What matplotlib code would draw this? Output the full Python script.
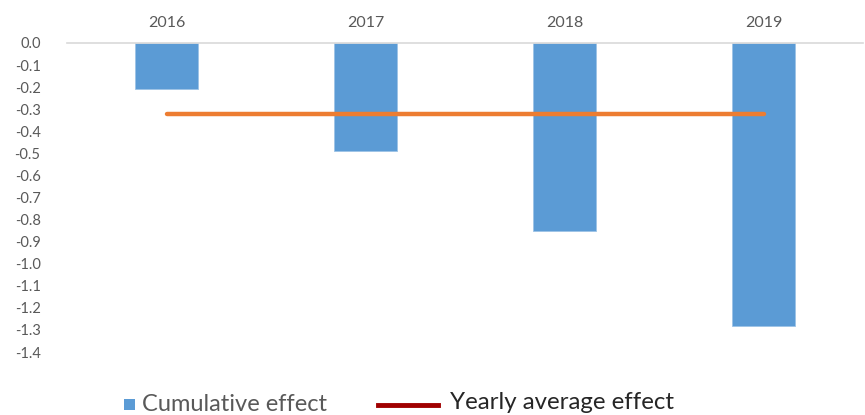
import matplotlib
matplotlib.use("Agg")
import matplotlib.pyplot as plt
from matplotlib.patches import Rectangle
from matplotlib.lines import Line2D

years = ["2016", "2017", "2018", "2019"]
cumulative_effect = [-0.21, -0.49, -0.85, -1.28]
yearly_average_effect = [-0.32, -0.32, -0.32, -0.32]
y_ticks = [0.0, -0.1, -0.2, -0.3, -0.4, -0.5, -0.6, -0.7, -0.8, -0.9, -1.0, -1.1, -1.2, -1.3, -1.4]

W, H = 865, 415
fig = plt.figure(figsize=(W / 100, H / 100), dpi=100)
plt.rcParams["font.family"] = ["Lato", "DejaVu Sans"]

left, right, top, bottom = 67, 863, 43, 352
ax = fig.add_axes([left / W, 1 - bottom / H, (right - left) / W, (bottom - top) / H])

x = list(range(len(years)))
ax.bar(x, cumulative_effect, width=0.32, color="#5B9BD5", edgecolor="#9DC3E6", linewidth=0.6, zorder=2)
ax.plot(x, yearly_average_effect, color="#ED7D31", linewidth=3.2, solid_capstyle="round", zorder=3)

ax.set_xlim(-0.5, len(years) - 0.5)
ax.set_ylim(-1.4, 0.0)
ax.xaxis.tick_top()
ax.set_xticks(x)
ax.set_xticklabels(years)
ax.set_yticks(y_ticks)
ax.set_yticklabels([f"{v:.1f}" for v in y_ticks])
ax.tick_params(axis="x", length=0, labelsize=11.5, colors="#595959", pad=9)
ax.tick_params(axis="y", length=0, labelsize=10.5, colors="#595959", pad=19)
for side in ("left", "right", "bottom"):
    ax.spines[side].set_visible(False)
ax.spines["top"].set_color("#D9D9D9")
ax.spines["top"].set_linewidth(1.2)

# legend drawn in figure pixel coordinates
def px(xp, yp):
    return xp / W, 1 - yp / H

fig.patches.append(Rectangle(px(124, 410), 11 / W, 11 / H, transform=fig.transFigure,
                             facecolor="#5B9BD5", edgecolor="none"))
fig.text(*px(142, 404), "Cumulative effect", fontsize=17, color="#595959", va="center", ha="left")
fig.lines.append(Line2D([378 / W, 438 / W], [1 - 405 / H] * 2, transform=fig.transFigure,
                        color="#A00000", linewidth=3.5))
fig.text(*px(450, 402), "Yearly average effect", fontsize=17.3, color="#262626", va="center", ha="left")

fig.savefig("out.png", dpi=100, facecolor="white")
